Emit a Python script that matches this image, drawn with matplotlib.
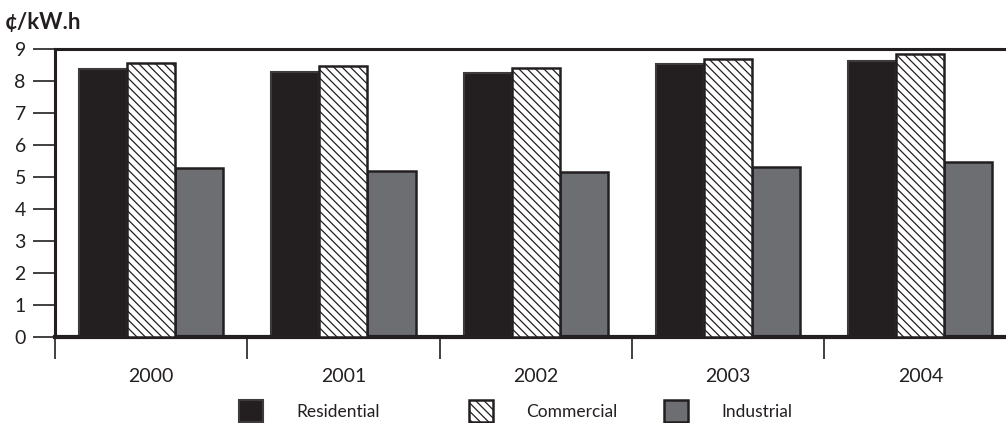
import matplotlib
matplotlib.use("Agg")
import matplotlib.pyplot as plt
import numpy as np

# Average retail electricity price by sector, cents per kWh
years = ["2000", "2001", "2002", "2003", "2004"]
residential = [8.37, 8.30, 8.25, 8.53, 8.63]
commercial = [8.56, 8.48, 8.41, 8.69, 8.85]
industrial = [5.30, 5.21, 5.16, 5.33, 5.49]

series_names = ["Residential", "Commercial", "Industrial"]
y_ticks = list(range(0, 10))
unit_label = "¢/kW.h"

DARK = "#231f20"
GREY = "#6d6e71"

plt.rcParams["font.family"] = ["Lato", "DejaVu Sans"]
plt.rcParams["hatch.color"] = DARK
plt.rcParams["hatch.linewidth"] = 0.9

W, H = 1006, 423
fig = plt.figure(figsize=(W / 100, H / 100), dpi=100)
ax = fig.add_axes([55 / W, (H - 337.3) / H, 961.5 / W, 288 / H])

x = np.arange(len(years))
w = 0.25
b1 = ax.bar(x - w, residential, w, color=DARK, edgecolor="#3d3b3c", linewidth=1.5,
            label=series_names[0], zorder=2)
b2 = ax.bar(x, commercial, w, color="white", edgecolor=DARK, hatch="\\\\\\\\",
            linewidth=1.8, label=series_names[1], zorder=3)
b3 = ax.bar(x + w, industrial, w, color=GREY, edgecolor=DARK, linewidth=1.8,
            label=series_names[2], zorder=2)

ax.set_xlim(-0.5, len(years) - 0.5)
ax.set_ylim(0, 9)
ax.set_yticks(y_ticks)
ax.tick_params(axis="y", direction="out", length=16, width=1.2, color=DARK,
               labelsize=14, pad=5, labelcolor=DARK)

# category boundaries carry the tick marks, centres carry the labels
ax.set_xticks(np.arange(len(years) + 1) - 0.5)
ax.set_xticklabels([])
ax.set_xticks(x, minor=True)
ax.set_xticklabels(years, minor=True)
ax.tick_params(axis="x", which="major", direction="out", length=16, width=1.2, color=DARK)
ax.tick_params(axis="x", which="minor", length=0, labelsize=14, pad=22, labelcolor=DARK)

ax.spines["right"].set_visible(False)
ax.spines["top"].set_linewidth(2.2)
ax.spines["left"].set_linewidth(2.2)
ax.spines["bottom"].set_linewidth(3.0)
for s in ("top", "left", "bottom"):
    ax.spines[s].set_color(DARK)

fig.text(5 / W, 1 - 23 / H, unit_label, fontsize=16, fontweight="bold",
         color=DARK, va="center", ha="left")

# one legend entry per series, spaced along the bottom of the figure
legend_x = [239, 469, 664]
for handle, name, lx in zip([b1, b2, b3], series_names, legend_x):
    fig.legend(handles=[handle], labels=[name], loc="center left",
               bbox_to_anchor=(lx / W, 1 - 411 / H), frameon=False,
               fontsize=12.5, handlelength=1.4, handleheight=1.5,
               handletextpad=1.9, borderpad=0, borderaxespad=0,
               labelcolor=DARK)

fig.savefig("out.png", dpi=100)
